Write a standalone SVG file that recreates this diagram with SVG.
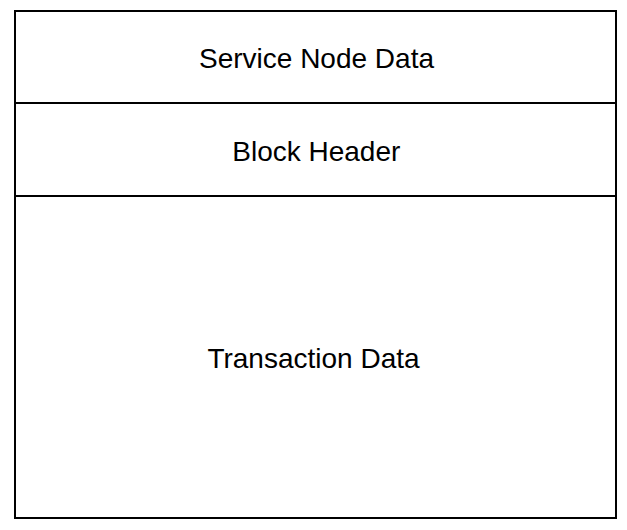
<svg xmlns="http://www.w3.org/2000/svg" width="627" height="530" viewBox="0 0 627 530">
<style>
.box{fill:#ffffff;stroke:#000000;stroke-width:2}
.lbl{font-family:"Liberation Sans",Arial,sans-serif;font-size:28px;fill:#000000;text-anchor:middle}
</style>
<rect width="627" height="530" fill="#ffffff"/>
<g id="service-node-data">
<rect class="box" x="15" y="11" width="601" height="92"/>
<text class="lbl" x="316.5" y="68">Service Node Data</text>
</g>
<g id="block-header">
<rect class="box" x="15" y="103" width="601" height="93"/>
<text class="lbl" x="316.3" y="161">Block Header</text>
</g>
<g id="transaction-data">
<rect class="box" x="15" y="196" width="601" height="322"/>
<text class="lbl" x="313.5" y="367.7">Transaction Data</text>
</g>
<g id="connectors"></g>
</svg>
